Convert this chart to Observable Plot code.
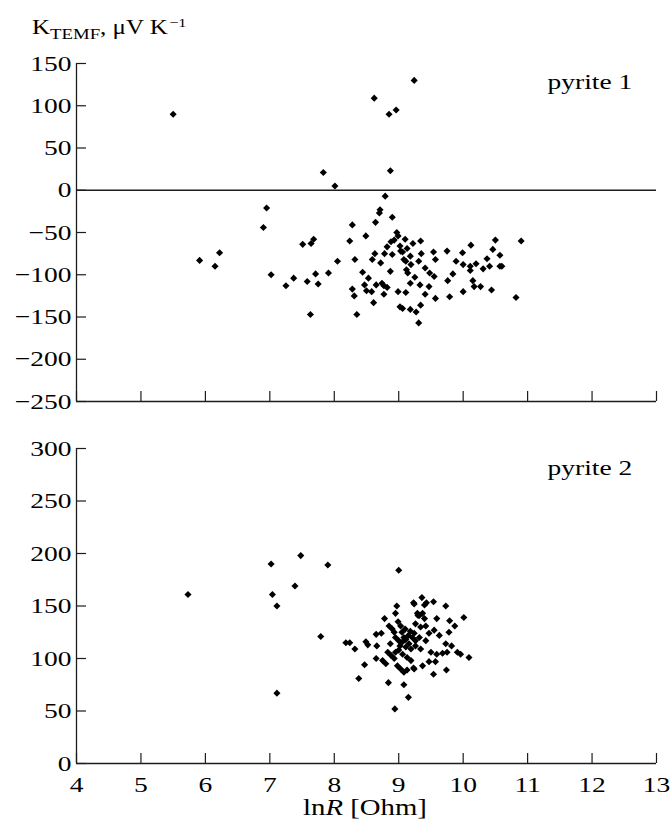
<!DOCTYPE html>
<html>
<head>
<meta charset="utf-8">
<script src="https://cdn.jsdelivr.net/npm/d3@7"></script>
<script src="https://cdn.jsdelivr.net/npm/@observablehq/plot@0.6"></script>
<style>
  body { margin: 0; background: #fff; }
  #wrap { position: relative; width: 670px; height: 820px; font-family: "Liberation Serif", "Times New Roman", serif; color: #000; overflow: hidden; }
  #wrap svg { display: block; }
  #title { position: absolute; left: 32px; top: 17px; font-size: 20px; line-height: 20px; white-space: nowrap; transform: scaleX(1.25); transform-origin: 0 0; z-index: 2; }
  #title .sub { font-size: 15px; position: relative; top: 5px; }
  #title .sup { font-size: 13px; position: relative; top: -7px; margin-left: 1px; }
  #xlabel { position: absolute; left: 30px; width: 670px; top: 796px; font-size: 23px; line-height: 23px; text-align: center; white-space: nowrap; transform: scaleX(1.25); transform-origin: 50% 0; z-index: 2; }
</style>
</head>
<body>
<div id="wrap">
  <div id="title">K<span class="sub">TEMF</span>, μV K<span class="sup">−1</span></div>
  <div id="xlabel">ln<i>R</i> [Ohm]</div>
</div>
<script>
// ---- data: pyrite 1 (lnR, K_TEMF) ----
const p1x = [5.50, 7.83, 8.01, 8.62, 8.85, 8.96, 9.24, 8.87, 8.79,
  5.91, 6.15, 6.22, 6.90, 6.95, 7.02, 7.25, 7.37, 7.51, 7.58, 7.63, 7.64, 7.68, 7.71, 7.75, 7.91,
  8.71, 8.70, 8.90, 8.28, 8.64, 8.49, 8.24, 8.97, 8.99, 8.88, 8.93, 9.10, 9.22, 9.34, 8.82, 9.02, 9.03, 9.06, 9.13, 8.63, 8.78, 8.90, 9.18, 9.35, 9.54, 9.75,
  8.05, 8.32, 8.59, 8.72, 9.08, 9.11, 9.19, 9.31, 9.57,
  8.44, 8.87, 9.12, 9.14, 9.41, 9.48, 9.55, 8.53, 9.25, 9.76, 9.79,
  8.47, 8.65, 8.74, 8.77, 8.82, 8.28, 8.31, 8.50, 8.58, 8.77, 9.18, 8.99, 9.11, 9.33, 9.47, 9.41, 9.57, 8.61, 9.02, 9.06, 9.18, 9.27, 9.34, 8.35, 9.31,
  10.12, 10.50, 10.90, 9.99, 10.46, 10.57, 9.89, 10.00, 10.11, 10.11, 10.20, 10.37, 10.31, 10.41, 10.57, 10.60, 9.84, 10.15, 10.17, 10.27, 10.44, 10.00, 10.82];
const p1y = [90, 21, 5, 109, 90, 95, 130, 23, -7,
  -83, -90, -74, -44, -21, -100, -113, -104, -64, -108, -147, -63, -58, -99, -111, -98,
  -23, -27, -32, -41, -38, -54, -60, -50, -54, -61, -59, -58, -63, -60, -67, -66, -72, -73, -69, -75, -75, -76, -78, -75, -73, -72,
  -84, -82, -82, -86, -82, -84, -88, -84, -82,
  -97, -96, -94, -98, -92, -98, -102, -104, -103, -107, -126,
  -112, -112, -110, -113, -115, -117, -125, -119, -120, -123, -110, -120, -121, -112, -114, -123, -128, -133, -138, -140, -141, -144, -136, -147, -157,
  -65, -59, -60, -74, -70, -77, -84, -88, -90, -95, -87, -81, -93, -90, -90, -90, -99, -107, -114, -114, -118, -120, -127];

// ---- data: pyrite 2 (lnR, K_TEMF) ----
const p2x = [5.73, 7.02, 7.48, 7.90, 7.04, 7.11, 7.39, 7.79, 7.11, 9.00,
  8.97, 9.23, 9.29, 9.30, 8.95, 8.78, 8.85, 8.99, 9.03, 8.65, 8.73, 8.93, 8.95, 9.00, 9.06, 9.11, 9.16, 9.21, 9.26,
  8.18, 8.24, 8.32, 8.49, 8.52, 8.66, 8.87, 8.95, 9.00, 9.06, 9.11, 9.19, 8.83, 8.88, 8.93, 8.65, 8.75, 8.80, 9.13, 9.19,
  8.98, 9.03, 9.08, 9.13, 9.23, 8.47, 8.38, 8.84, 9.08, 9.15, 8.94,
  9.36, 9.54, 9.40, 9.43, 9.73, 9.24, 9.32, 9.37, 9.40, 9.59, 10.01, 9.79, 9.87, 9.26, 9.34, 9.42, 9.55, 9.63, 9.78,
  9.24, 9.32, 9.42, 9.47, 9.73, 9.82, 9.26, 9.34, 9.50, 9.59, 9.68, 9.75, 9.91, 9.96, 10.09, 9.47, 9.57, 9.37, 9.24, 9.54, 9.74,
  9.05, 9.10, 9.15, 9.02, 9.08, 9.18, 8.90];
const p2y = [161, 190, 198, 189, 161, 150, 169, 121, 67, 184,
  150, 153, 143, 141, 143, 138, 131, 135, 131, 123, 124, 125, 120, 117, 116, 118, 114, 120, 117,
  115, 115, 109, 116, 113, 112, 114, 106, 108, 104, 111, 109, 106, 103, 100, 100, 98, 95, 101, 98,
  93, 90, 87, 89, 91, 94, 81, 77, 75, 63, 52,
  158, 154, 151, 153, 150, 152, 141, 143, 138, 138, 139, 136, 131, 133, 130, 131, 127, 122, 125,
  124, 120, 117, 124, 114, 112, 112, 109, 106, 104, 105, 106, 106, 104, 101, 97, 97, 93, 90, 85, 89,
  125, 128, 122, 112, 120, 126, 128];

// ---- axes / ticks ----
const xTicks = [4, 5, 6, 7, 8, 9, 10, 11, 12, 13];
const y1Ticks = [-250, -200, -150, -100, -50, 0, 50, 100, 150];
const y2Ticks = [0, 50, 100, 150, 200, 250, 300];
const label1 = "pyrite 1";
const label2 = "pyrite 2";

const font = '"Liberation Serif", "Times New Roman", serif';
const ink = "#1c1c1c";
const fmt = d => d < 0 ? "\u2212" + Math.abs(d) : String(d);
const TEXT_STRETCH = 1.25;

// widen serif glyphs horizontally (the reference type is set wide)
function stretchText(svg) {
  svg.querySelectorAll("text").forEach(t => {
    const tr = t.getAttribute("transform") || "";
    t.setAttribute("transform", `${tr} scale(${TEXT_STRETCH},1)`);
    ["x", "dx"].forEach(a => {
      const v = t.getAttribute(a);
      if (v != null && /^\s*-?[\d.]+\s*$/.test(v)) t.setAttribute(a, parseFloat(v) / TEXT_STRETCH);
    });
  });
  return svg;
}

function panel({xs, ys, yDomain, yTicks, height, marginTop, marginBottom, zero, xLabels, label, labelDy}) {
  const data = xs.map((x, i) => ({x, y: ys[i]}));
  const marks = [
    Plot.ruleX([xTicks[0]], {stroke: ink, strokeWidth: 1.3}),
    Plot.ruleY([yDomain[0]], {stroke: ink, strokeWidth: 1.3}),
    zero ? Plot.ruleY([0], {stroke: ink, strokeWidth: 1.3}) : null,
    Plot.axisY({ticks: yTicks, tickSize: -10, fill: "none", stroke: ink, strokeWidth: 1.2, label: null}),
    Plot.axisY({ticks: yTicks, tickSize: 0, tickPadding: 5, tickFormat: fmt, fill: "#000", fontSize: 22, label: null}),
    Plot.axisX({ticks: xTicks, tickSize: -10, fill: "none", stroke: ink, strokeWidth: 1.2, label: null}),
    xLabels ? Plot.axisX({ticks: xTicks, tickSize: 0, tickPadding: 13, tickFormat: fmt, fill: "#000", fontSize: 22, label: null}) : null,
    Plot.dot(data, {x: "x", y: "y", symbol: "diamond2", r: 3.2, fill: "#000", stroke: "none"}),
    Plot.text([label], {frameAnchor: "top-right", text: d => d, textAnchor: "start", lineAnchor: "bottom", dx: -109, dy: labelDy, fontSize: 22, fill: "#000"})
  ].filter(Boolean);
  const svg = Plot.plot({
    width: 670,
    height,
    marginLeft: 76,
    marginRight: 14,
    marginTop,
    marginBottom,
    x: {domain: [xTicks[0], xTicks[xTicks.length - 1]]},
    y: {domain: yDomain},
    style: {fontFamily: font, fontSize: "22px", color: "#000", background: "white", overflow: "visible"},
    marks
  });
  return stretchText(svg);
}

const wrap = document.getElementById("wrap");
wrap.appendChild(panel({xs: p1x, ys: p1y, yDomain: [-250, 150], yTicks: y1Ticks, height: 420, marginTop: 63, marginBottom: 19, zero: true, xLabels: false, label: label1, labelDy: 25}));
wrap.appendChild(panel({xs: p2x, ys: p2y, yDomain: [0, 300], yTicks: y2Ticks, height: 400, marginTop: 28, marginBottom: 57, zero: false, xLabels: true, label: label2, labelDy: 26}));
</script>
</body>
</html>
